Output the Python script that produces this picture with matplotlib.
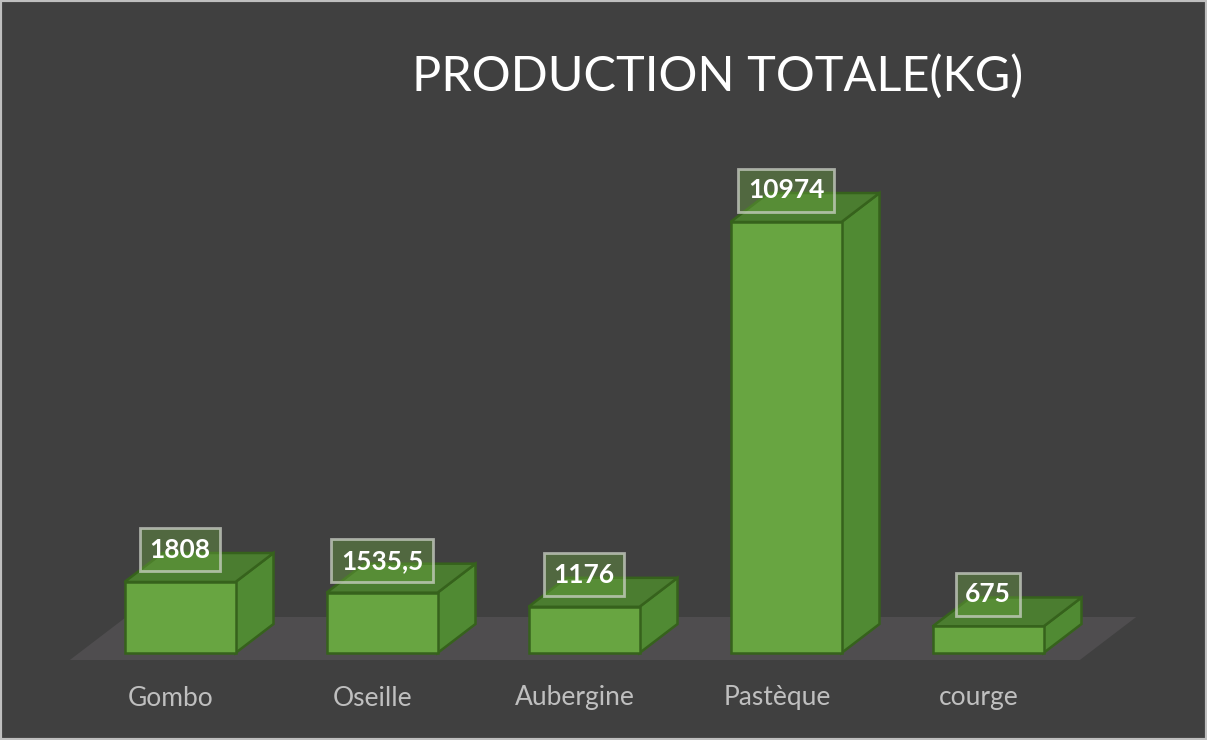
import matplotlib.pyplot as plt
from matplotlib.patches import Rectangle

categories = ['Gombo', 'Oseille', 'Aubergine', 'Pastèque', 'courge']
production = [1808, 1535.5, 1176, 10974, 675]
value_labels = ['1808', '1535,5', '1176', '10974', '675']
title = 'PRODUCTION TOTALE(KG)'

bg = '#404040'
front_col = '#68a541'
side_col = '#508a33'
top_col = '#4b7d30'
edge_col = '#36621c'
floor_col = '#4f4d4f'

plt.rcParams['font.family'] = ['Lato', 'DejaVu Sans']

fig = plt.figure(figsize=(12.07, 7.40), dpi=100)
fig.patch.set_facecolor(bg)
ax = fig.add_axes([0, 0, 1, 1])
ax.set_facecolor(bg)

# pixel -> data mapping: bar spacing 202px, 10974 units ~ 431px
k = 431 / 10974
ax.set_xlim(-180 / 202, (1207 - 180) / 202)
ax.set_ylim((653 - 740) / k, 653 / k)
ax.axis('off')

w = 111 / 202          # bar width
ddx = 38 / 202         # depth offset
ddy = 29 / k
f = 7 / 29             # floor margin in front / behind bars

# floor
t0, t1 = -f, 1 + f
fx = [-0.5 + t0 * ddx, len(categories) - 0.5 + t0 * ddx,
      len(categories) - 0.5 + t1 * ddx, -0.5 + t1 * ddx]
fy = [t0 * ddy, t0 * ddy, t1 * ddy, t1 * ddy]
ax.fill(fx, fy, color=floor_col, zorder=1, lw=0)

for i, v in enumerate(production):
    x0, x1 = i - w / 2, i + w / 2
    # side
    ax.fill([x1, x1 + ddx, x1 + ddx, x1], [0, ddy, v + ddy, v],
            facecolor=side_col, edgecolor=edge_col, lw=1.8, zorder=2)
    # top
    ax.fill([x0, x1, x1 + ddx, x0 + ddx], [v, v, v + ddy, v + ddy],
            facecolor=top_col, edgecolor=edge_col, lw=1.8, zorder=2)
    # front
    ax.fill([x0, x1, x1, x0], [0, 0, v, v],
            facecolor=front_col, edgecolor=edge_col, lw=1.8, zorder=3)

    ax.text(i, v + ddy + 3 / k, value_labels[i], color='white', fontsize=19,
            fontweight='bold', ha='center', va='center', zorder=5,
            bbox=dict(boxstyle='square,pad=0.36', facecolor=(0.42, 0.65, 0.25, 0.4),
                      edgecolor=(0.8, 0.82, 0.78, 0.75), lw=2))

    ax.text(i + t0 * ddx, -45 / k, categories[i], color='#bfbfbf', fontsize=19,
            ha='center', va='center')

fig.text(718 / 1207, 1 - 76 / 740, title, color='white', fontsize=35,
         ha='center', va='center')

fig.patches.append(Rectangle((0, 0), 1, 1, transform=fig.transFigure,
                             fill=False, edgecolor='#bfbfbf', lw=3))

fig.savefig('out.png', facecolor=bg)
